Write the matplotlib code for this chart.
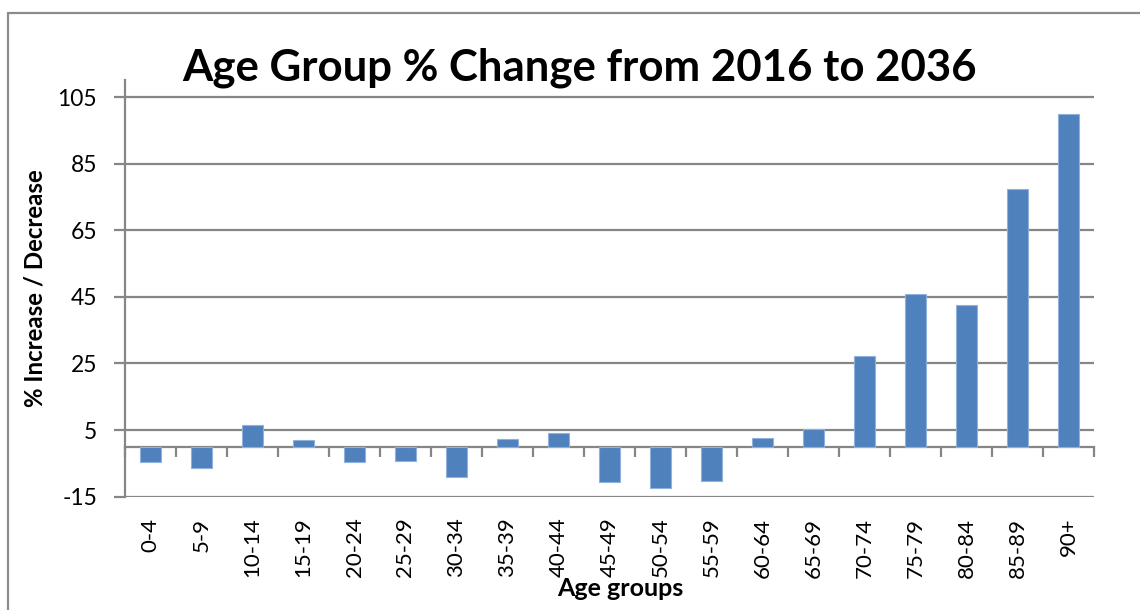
import numpy as np
import matplotlib
matplotlib.use("Agg")
import matplotlib.pyplot as plt
from matplotlib.patches import Rectangle

plt.rcParams['font.family'] = ['Lato', 'DejaVu Sans']
plt.rcParams['axes.unicode_minus'] = False

age_groups = ["0-4", "5-9", "10-14", "15-19", "20-24", "25-29", "30-34", "35-39",
              "40-44", "45-49", "50-54", "55-59", "60-64", "65-69", "70-74",
              "75-79", "80-84", "85-89", "90+"]
pct_change = [-4.7, -6.3, 6.5, 2.0, -4.6, -4.3, -9.0, 2.3, 4.0, -10.5,
              -12.3, -10.3, 2.5, 5.2, 27.2, 45.8, 42.5, 77.3, 99.9]
y_ticks = [-15, 5, 25, 45, 65, 85, 105]

W, H = 1140, 610
fig = plt.figure(figsize=(W / 100, H / 100), dpi=100)
ax = fig.add_axes([125 / W, 1 - 496.7 / H, (1094 - 125) / W, (496.7 - 80.4) / H])

grid_c = "#868686"
x = np.arange(len(age_groups))
ax.bar(x, pct_change, width=0.4, color="#4F81BD", edgecolor="#8FB1DC", linewidth=0.8, zorder=3)

ax.set_xlim(-0.5, len(age_groups) - 0.5)
ax.set_ylim(-15, 110)
ax.set_yticks(y_ticks)
ax.yaxis.grid(True, color=grid_c, linewidth=1.6, zorder=0)
ax.tick_params(axis='y', length=8, width=1.6, color=grid_c, pad=12, labelsize=16.5)

for s in ["top", "right", "bottom"]:
    ax.spines[s].set_visible(False)
ax.spines["left"].set_color(grid_c)
ax.spines["left"].set_linewidth(1.6)

# category labels at the bottom, no ticks there
ax.set_xticks(x)
ax.set_xticklabels(age_groups, rotation=90, fontsize=16)
ax.tick_params(axis='x', length=0, pad=15)

# category axis crossing at zero with ticks between categories
ylo, yhi = ax.get_ylim()
sec = ax.secondary_xaxis((0 - ylo) / (yhi - ylo))
sec.set_xticks(np.arange(len(age_groups) + 1) - 0.5)
sec.set_xticklabels([])
sec.tick_params(length=7, width=1.6, color=grid_c)
sec.spines["bottom"].set_color(grid_c)
sec.spines["bottom"].set_linewidth(1.6)

ax.set_ylabel("% Increase / Decrease", fontsize=17.3, fontweight="bold")
ax.yaxis.set_label_coords(-0.0805, 0.5)
fig.text(620 / W, 1 - 589 / H, "Age groups", ha="center", va="center",
         fontsize=18, fontweight="bold")
fig.text(580 / W, 1 - 80 / H, "Age Group % Change from 2016 to 2036", ha="center",
         va="baseline", fontsize=31.5, fontweight="bold")

fig.add_artist(Rectangle((8 / W, -0.05), 1.0, 1 - 13 / H + 0.05, transform=fig.transFigure,
                         fill=False, edgecolor="#8C8C8C", linewidth=1.6))

fig.savefig("out.png", dpi=100)
